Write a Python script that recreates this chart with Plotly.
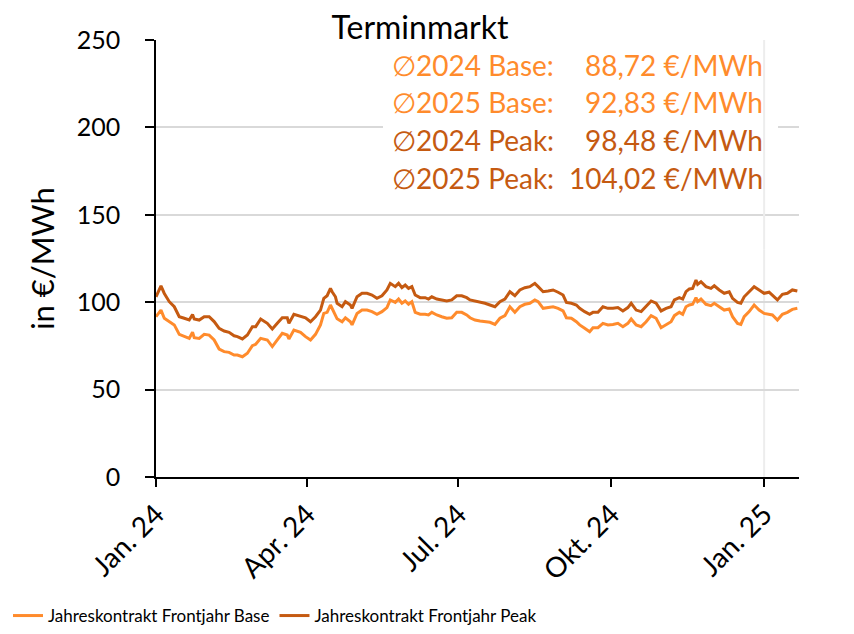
import pandas as pd
import plotly.graph_objects as go

# day offsets since 2024-01-01
days = [0,3,5,8,11,14,17,20,22,23,26,29,32,35,38,41,44,47,49,52,55,58,60,63,67,70,73,76,79,80,
        83,87,90,93,96,99,101,103,105,106,108,109,112,114,117,118,121,124,127,130,133,136,139,141,
        144,146,148,150,152,154,156,159,162,164,166,169,172,175,178,181,184,187,189,192,195,198,
        201,204,207,210,213,216,219,222,225,228,230,233,236,239,242,245,247,250,253,255,258,261,
        263,266,269,272,275,278,281,284,286,289,292,295,298,301,304,307,310,312,315,317,319,321,
        323,325,326,328,331,334,336,339,342,345,347,350,352,354,357,360,363,366,369,371,374,377,
        380,383,386]

peak = [103.1,109.3,105.0,100.3,97.4,91.7,90.8,89.8,93.0,90.4,89.8,91.7,91.7,88.9,85.0,83.5,82.8,
        80.8,80.3,79.0,81.2,86.0,86.0,90.4,87.9,84.7,87.9,91.1,91.1,87.9,93.1,91.7,91.1,88.8,91.7,
        95.5,102.2,103.7,107.9,106.0,103.1,99.4,97.4,100.3,98.4,96.5,103.1,105.1,105.1,104.1,102.2,
        103.7,107.0,110.8,108.9,110.8,108.3,109.8,107.9,108.9,104.1,102.6,102.6,101.8,103.1,101.8,
        101.3,100.7,101.3,103.7,103.7,102.6,101.3,100.7,99.9,99.4,98.4,97.4,100.3,101.8,106.0,103.7,
        107.0,108.3,108.9,110.8,108.9,106.0,106.4,107.0,105.7,104.1,99.9,99.4,98.4,96.5,94.6,93.1,
        94.2,94.2,97.4,96.5,96.5,96.9,95.0,96.9,99.4,95.5,94.6,97.4,100.7,99.4,95.0,96.5,97.4,101.3,
        102.6,101.8,106.0,107.6,107.9,112.7,110.2,111.7,108.9,107.9,109.4,107.0,105.1,106.0,102.2,
        99.9,99.4,103.1,106.0,108.9,107.0,105.1,105.7,104.1,101.3,104.5,105.1,107.0,106.4]

base = [91.7,95.5,90.8,88.8,87.0,81.6,80.3,79.3,82.8,79.7,79.3,81.6,81.2,78.4,73.2,71.7,71.3,69.8,
        69.8,68.8,70.8,75.1,75.9,79.3,78.4,74.6,78.4,82.2,81.2,79.0,84.1,82.8,80.3,78.4,81.6,87.0,
        93.6,94.2,98.4,96.5,92.7,90.5,88.8,91.1,88.8,87.0,93.6,95.5,95.5,94.6,93.1,94.6,96.9,101.3,
        99.9,101.8,99.4,100.7,98.8,100.3,94.2,93.1,93.1,92.7,94.2,92.7,91.7,90.8,91.1,94.2,94.2,
        92.7,91.1,89.8,89.2,88.8,88.5,87.3,90.8,92.3,97.4,94.2,97.4,98.8,99.4,101.3,100.3,96.5,96.9,
        97.4,96.5,95.0,91.1,90.8,88.8,87.0,85.1,83.1,85.4,85.4,87.9,87.0,87.3,87.9,86.0,87.9,90.4,
        87.0,86.0,88.8,92.3,90.8,85.4,87.0,88.8,92.3,94.2,93.1,97.4,98.4,98.8,102.6,100.3,101.8,
        98.8,98.0,99.4,97.4,95.5,96.1,91.7,87.9,87.3,91.7,94.6,98.4,95.5,93.6,93.1,92.7,89.8,93.1,
        94.2,95.9,96.5]

tick_dates = ["2024-01-01", "2024-04-01", "2024-07-01", "2024-10-01", "2025-01-01"]
tick_labels = ["Jan. 24", "Apr. 24", "Jul. 24", "Okt. 24", "Jan. 25"]
y_ticks = [0, 50, 100, 150, 200, 250]

avg_labels = ["∅2024 Base:", "∅2025 Base:", "∅2024 Peak:", "∅2025 Peak:"]
avg_values = ["88,72 €/MWh", "92,83 €/MWh", "98,48 €/MWh", "104,02 €/MWh"]

names = ["Jahreskontrakt Frontjahr Base", "Jahreskontrakt Frontjahr Peak"]

BASE_C = "#FF8B2C"
PEAK_C = "#C55A11"
FONT = "Lato"

OFF = 8  # page body margin: figure is drawn 8px right/down in the window
W, H = 854, 634
L, R, T, B = 156 - OFF, 799 - OFF, 40 - OFF, 477 - OFF
PW, PH = R - L, B - T

def px(xs):
    return (xs - OFF - L) / PW

def py(ys):
    return (B - (ys - OFF)) / PH

dates = pd.Timestamp("2024-01-01") + pd.to_timedelta(days, unit="D")

fig = go.Figure()
fig.add_trace(go.Scatter(x=dates, y=base, mode="lines", name=names[0],
                         line=dict(color=BASE_C, width=3)))
fig.add_trace(go.Scatter(x=dates, y=peak, mode="lines", name=names[1],
                         line=dict(color=PEAK_C, width=3)))

# white box behind averages
fig.add_shape(type="rect", xref="paper", yref="paper",
              x0=px(383), x1=px(778), y0=py(198), y1=py(43),
              fillcolor="white", line=dict(width=0), layer="above")

# light vertical line at year boundary (lower part below traces, upper part above the box)
fig.add_shape(type="line", xref="x", yref="y", x0=tick_dates[-1], x1=tick_dates[-1],
              y0=0, y1=130, line=dict(color="#EDEDED", width=2), layer="below")
fig.add_shape(type="line", xref="x", yref="y", x0=tick_dates[-1], x1=tick_dates[-1],
              y0=130, y1=250, line=dict(color="#EDEDED", width=2), layer="above")

line_y = [65, 102, 140, 178]
colors = [BASE_C, BASE_C, PEAK_C, PEAK_C]
for lab, val, yy, c in zip(avg_labels, avg_values, line_y, colors):
    fig.add_annotation(xref="paper", yref="paper", x=px(390), y=py(yy),
                       text=lab, showarrow=False, xanchor="left", yanchor="middle",
                       font=dict(family=FONT, size=28, color=c))
    fig.add_annotation(xref="paper", yref="paper", x=px(765), y=py(yy),
                       text=val, showarrow=False, xanchor="right", yanchor="middle",
                       font=dict(family=FONT, size=28, color=c))

fig.update_layout(
    width=W, height=H,
    margin=dict(l=L, r=W - R, t=T, b=H - B, autoexpand=False),
    paper_bgcolor="white", plot_bgcolor="white",
    font=dict(family=FONT, size=28, color="black"),
    title=dict(text="Terminmarkt", x=(420 - OFF) / W, xref="container",
               xanchor="center", y=1 - (28 - OFF) / H, yref="container", yanchor="middle",
               automargin=False,
               font=dict(family=FONT, size=32, color="black")),
    showlegend=True,
    legend=dict(orientation="h", x=-L / PW, xanchor="left", y=py(616), yanchor="middle",
                font=dict(family=FONT, size=17, color="black"), itemwidth=30,
                bgcolor="rgba(0,0,0,0)"),
    xaxis=dict(type="date", range=["2024-01-01", "2025-01-22"],
               tickmode="array", tickvals=tick_dates, ticktext=tick_labels,
               tickangle=-45, ticks="outside", ticklen=8, tickwidth=1.5, tickcolor="black",
               showline=True, linecolor="black", linewidth=1.5, showgrid=False,
               zeroline=False, automargin=False,
               tickfont=dict(family=FONT, size=28, color="black")),
    yaxis=dict(range=[0, 250], tickmode="array", tickvals=y_ticks,
               ticks="outside", ticklen=9, tickwidth=1.5, tickcolor="black",
               showline=True, linecolor="black", linewidth=1.5, ticklabelstandoff=20,
               showgrid=True, gridcolor="#D9D9D9", gridwidth=1.5, zeroline=False,
               automargin=False,
               tickfont=dict(family=FONT, size=25, color="black"),
               title=dict(text="in €/MWh", font=dict(family=FONT, size=31, color="black"),
                          standoff=13)),
)

fig.write_html("out.html")
